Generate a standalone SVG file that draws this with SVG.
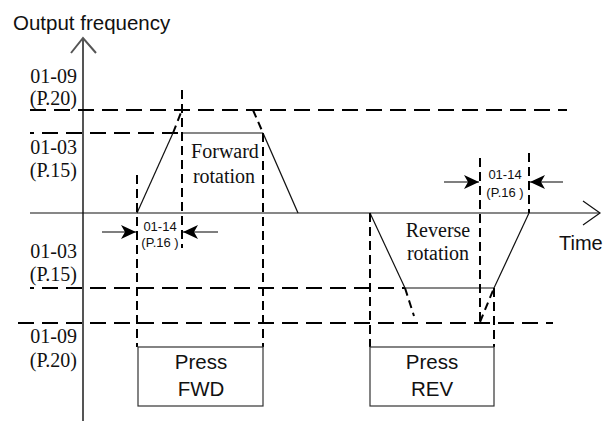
<svg xmlns="http://www.w3.org/2000/svg" width="604" height="421" viewBox="0 0 604 421">
<defs>
<marker id="ah" viewBox="0 0 16 16" refX="15" refY="8" markerWidth="16" markerHeight="16" markerUnits="userSpaceOnUse" orient="auto">
<path d="M15,8 L0,1 L4,8 L0,15 Z" fill="#000"/>
</marker>
<style>
.bg{fill:#fff}
.axis{stroke:#555;stroke-width:2;fill:none}
.haxis{stroke:#111;stroke-width:1.2;fill:none}
.sol{stroke:#111;stroke-width:1.2;fill:none}
.hd{stroke:#000;stroke-width:2.2;stroke-dasharray:16 8;fill:none}
.vd{stroke:#000;stroke-width:2;stroke-dasharray:9 5;fill:none}
.sd{stroke:#000;stroke-width:2;stroke-dasharray:8 5;fill:none}
.dim{stroke:#000;stroke-width:1.2;fill:none;marker-end:url(#ah)}
.box{fill:#fff;stroke:#333;stroke-width:1.2}
.lbl{font-family:"Liberation Serif","Times New Roman",serif;font-size:20px;fill:#111}
.sans{font-family:"Liberation Sans",Arial,sans-serif;fill:#111}
.small{font-family:"Liberation Sans",Arial,sans-serif;font-size:13px;fill:#111}
</style>
</defs>
<rect class="bg" x="0" y="0" width="604" height="421"/>

<g id="axes">
<line class="axis" x1="83" y1="38" x2="83" y2="421"/>
<polyline class="axis" points="71,53 83,38 96,53" stroke-width="1.4"/>
<line class="haxis" x1="30" y1="213" x2="600" y2="213"/>
<polyline class="haxis" points="583,201 600,213 583,225"/>
<text class="sans" x="13" y="30" font-size="20.5">Output frequency</text>
<text class="sans" x="559" y="250" font-size="20">Time</text>
</g>

<g id="levels">
<line class="hd" x1="30" y1="110" x2="567" y2="110"/>
<line class="hd" x1="30" y1="133" x2="182" y2="133" stroke-dashoffset="12"/>
<line class="hd" x1="30" y1="288" x2="405" y2="288" stroke-dashoffset="12"/>
<line class="hd" x1="18" y1="323" x2="553" y2="323"/>
<text class="lbl" x="77" y="83" text-anchor="end">01-09</text>
<text class="lbl" x="77" y="105" text-anchor="end">(P.20)</text>
<text class="lbl" x="77" y="154" text-anchor="end">01-03</text>
<text class="lbl" x="77" y="177" text-anchor="end">(P.15)</text>
<text class="lbl" x="77" y="258" text-anchor="end">01-03</text>
<text class="lbl" x="77" y="281" text-anchor="end">(P.15)</text>
<text class="lbl" x="77" y="343" text-anchor="end">01-09</text>
<text class="lbl" x="77" y="367" text-anchor="end">(P.20)</text>
</g>

<g id="forward">
<polyline class="sol" points="137,213 173,133"/>
<line class="sd" x1="173" y1="133" x2="182" y2="110"/>
<line class="sol" x1="182" y1="133" x2="263" y2="133"/>
<line class="sd" x1="253" y1="110" x2="263" y2="133"/>
<line class="sol" x1="263" y1="133" x2="298" y2="213"/>
<text class="lbl" x="225" y="158" text-anchor="middle">Forward</text>
<text class="lbl" x="224" y="183" text-anchor="middle">rotation</text>
</g>

<g id="reverse">
<line class="sol" x1="370" y1="213" x2="405" y2="288"/>
<line class="sd" x1="405" y1="288" x2="414" y2="316"/>
<line class="sol" x1="405" y1="288" x2="494" y2="288"/>
<line class="sd" x1="480" y1="322" x2="494" y2="288"/>
<line class="sol" x1="494" y1="288" x2="529" y2="213"/>
<text class="lbl" x="438" y="237" text-anchor="middle">Reverse</text>
<text class="lbl" x="438" y="260" text-anchor="middle">rotation</text>
</g>

<g id="connectors">
<line class="vd" x1="137" y1="175" x2="137" y2="347"/>
<line class="vd" x1="182" y1="90" x2="182" y2="248"/>
<line class="vd" x1="263" y1="133" x2="263" y2="347"/>
<line class="vd" x1="370" y1="213" x2="370" y2="347"/>
<line class="vd" x1="480" y1="158" x2="480" y2="322"/>
<line class="vd" x1="494" y1="288" x2="494" y2="347"/>
<line class="vd" x1="529" y1="153" x2="529" y2="213"/>
<line class="dim" x1="102" y1="232" x2="136" y2="232"/>
<line class="dim" x1="218" y1="232" x2="183" y2="232"/>
<line class="dim" x1="444" y1="182" x2="479" y2="182"/>
<line class="dim" x1="563" y1="182" x2="530" y2="182"/>
</g>

<g id="dim-fwd">
<text class="small" x="160" y="231" text-anchor="middle">01-14</text>
<text class="small" x="160" y="247" text-anchor="middle">(P.16 )</text>
</g>
<g id="dim-rev">
<text class="small" x="505" y="179" text-anchor="middle">01-14</text>
<text class="small" x="505" y="197" text-anchor="middle">(P.16 )</text>
</g>

<g id="press-fwd">
<rect class="box" x="138" y="347" width="125" height="59"/>
<text class="sans" x="201" y="369" font-size="20.5" text-anchor="middle">Press</text>
<text class="sans" x="201" y="396" font-size="20.5" text-anchor="middle">FWD</text>
</g>
<g id="press-rev">
<rect class="box" x="370" y="347" width="124" height="59"/>
<text class="sans" x="432" y="369" font-size="20.5" text-anchor="middle">Press</text>
<text class="sans" x="432" y="396" font-size="20.5" text-anchor="middle">REV</text>
</g>
</svg>
